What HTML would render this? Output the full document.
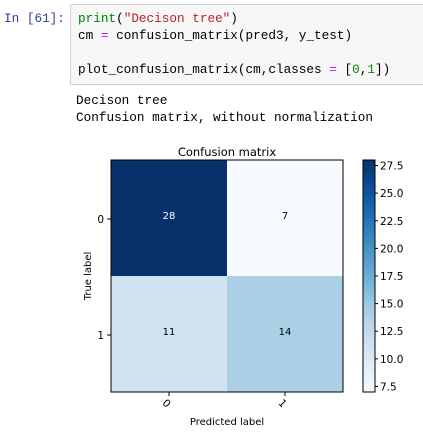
<!DOCTYPE html>
<html><head><meta charset="utf-8"><style>
body{margin:0;width:423px;height:433px;background:#fff;overflow:hidden;position:relative;font-family:"DejaVu Sans",sans-serif}
.mono{font-family:"Liberation Mono",monospace;font-size:12.7px;position:absolute;white-space:pre;line-height:17px}
</style></head><body>
<div class="mono" style="left:4px;top:10px;color:#303f9f">In [61]:</div>
<div style="position:absolute;left:70px;top:4px;width:355px;height:79px;background:#f7f7f7;border:1px solid #cfcfcf;border-radius:2px"></div>
<div class="mono" style="left:78px;top:10px;color:#000"><span style="color:#008000">print</span>(<span style="color:#ba2121">"Decison tree"</span>)
cm <span style="color:#aa22ff">=</span> confusion_matrix(pred3, y_test)

plot_confusion_matrix(cm,classes <span style="color:#aa22ff">=</span> [<span style="color:#008800">0</span>,<span style="color:#008800">1</span>])</div>
<div class="mono" style="left:76px;top:92px;color:#000">Decison tree
Confusion matrix, without normalization</div>
<svg id="chart" width="423" height="433" style="position:absolute;left:0;top:0;font-family:'DejaVu Sans',sans-serif">
<defs><linearGradient id="blues" x1="0" y1="1" x2="0" y2="0">
<stop offset="0" stop-color="#f7fbff"/><stop offset="0.125" stop-color="#deebf7"/><stop offset="0.25" stop-color="#c6dbef"/><stop offset="0.375" stop-color="#9ecae1"/><stop offset="0.5" stop-color="#6baed6"/><stop offset="0.625" stop-color="#4292c6"/><stop offset="0.75" stop-color="#2171b5"/><stop offset="0.875" stop-color="#08519c"/><stop offset="1" stop-color="#08306b"/></linearGradient></defs>
</svg>
<script>
const classes=["0","1"];
const matrix=[[28,7],[11,14]];
const cbTicks=[7.5,10.0,12.5,15.0,17.5,20.0,22.5,25.0,27.5];
const ns="http://www.w3.org/2000/svg";
const svg=document.getElementById('chart');
const L=111,R=343,T=160,B=392;
const vmin=7,vmax=28;
const stops=[[0,[247,251,255]],[.125,[222,235,247]],[.25,[198,219,239]],[.375,[158,202,225]],[.5,[107,174,214]],[.625,[66,146,198]],[.75,[33,113,181]],[.875,[8,81,156]],[1,[8,48,107]]];
function cmap(v){let t=(v-vmin)/(vmax-vmin);t=Math.max(0,Math.min(1,t));
for(let i=1;i<stops.length;i++){if(t<=stops[i][0]){const a=stops[i-1],b=stops[i];const f=(t-a[0])/(b[0]-a[0]);
return 'rgb('+a[1].map((c,k)=>Math.round(c+(b[1][k]-c)*f)).join(',')+')';}}return 'rgb(8,48,107)';}
function el(tag,attrs,text){const e=document.createElementNS(ns,tag);for(const k in attrs)e.setAttribute(k,attrs[k]);if(text!==undefined)e.textContent=text;svg.appendChild(e);return e;}
const n=classes.length,cw=(R-L)/n,ch=(B-T)/n;
const xs=i=>L+cw*(i+0.5),ys=i=>T+ch*(i+0.5);
for(let i=0;i<n;i++)for(let j=0;j<n;j++){
const r=el('rect',{x:L+cw*j,y:T+ch*i,width:cw,height:ch,fill:cmap(matrix[i][j])});


const t=el('text',{x:xs(j),y:ys(i)+1,'text-anchor':'middle','font-size':'10',fill:matrix[i][j]>(vmax+vmin)/2?'#fff':'#000'},matrix[i][j]);


}
el('rect',{x:L,y:T,width:R-L,height:B-T,fill:'none',stroke:'#000','stroke-width':1});
for(let i=0;i<n;i++){
el('line',{x1:L-4,x2:L,y1:ys(i)+1,y2:ys(i)+1,stroke:'#000'});
const yl=el('text',{x:L-7,y:ys(i)+5,'text-anchor':'end','font-size':'10.5'},classes[i]);


el('line',{x1:xs(i),x2:xs(i),y1:B,y2:B+4,stroke:'#000'});
const xl=el('text',{x:xs(i)-2,y:B+15,'text-anchor':'middle','font-size':'10.5',transform:'rotate(45 '+(xs(i)-2)+' '+(B+11)+')'},classes[i]);


}
const title=el('text',{x:(L+R)/2,y:T-4,'text-anchor':'middle','font-size':'11.5'},'Confusion matrix');


const xt=el('text',{x:(L+R)/2,y:425,'text-anchor':'middle','font-size':'10'},'Predicted label');


const yt=el('text',{x:0,y:0,'text-anchor':'middle','font-size':'10',transform:'translate(91 '+((T+B)/2)+') rotate(-90)'},'True label');


const CL=363,CR=375;
const cb=el('rect',{x:CL,y:T,width:CR-CL,height:B-T,fill:'url(#blues)',stroke:'#000','stroke-width':1});


const cy=v=>B-(v-vmin)/(vmax-vmin)*(B-T);
cbTicks.forEach(v=>{
el('line',{x1:CR,x2:CR+3,y1:cy(v),y2:cy(v),stroke:'#000'});
const t=el('text',{x:CR+5,y:cy(v)+4,'font-size':'10.5'},v.toFixed(1));


});
</script>
</body></html>
